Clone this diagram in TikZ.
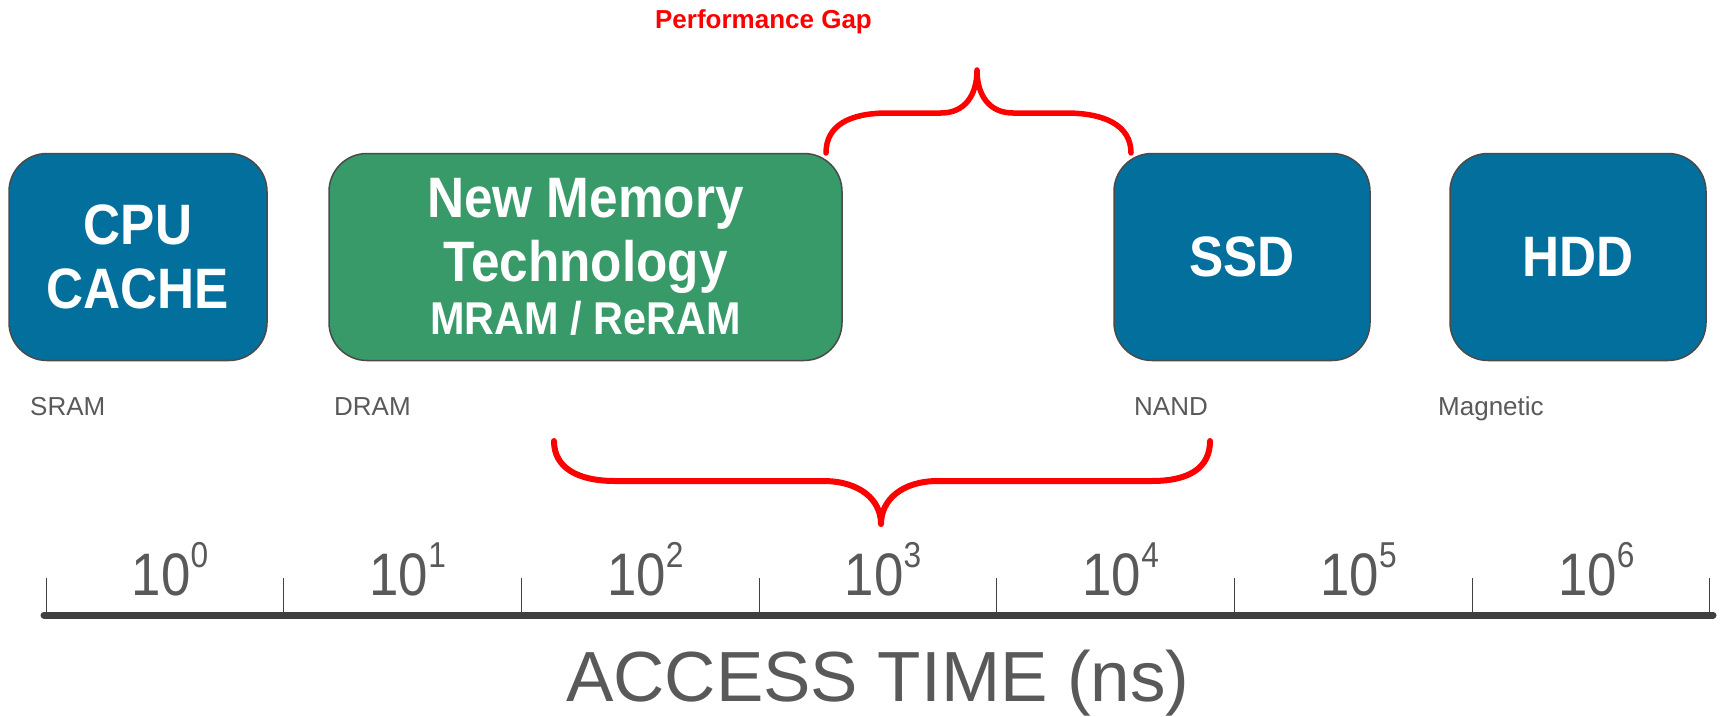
\documentclass[tikz,border=0pt]{standalone}
\usepackage{fontspec}
\setmainfont[FakeStretch=0.9]{Liberation Sans}
\newfontfamily\plainfont{Liberation Sans}
\newfontfamily\axisfont[FakeStretch=0.88]{Liberation Sans}
\usetikzlibrary{calc}
\definecolor{MemBlue}{HTML}{036F9D}
\definecolor{MemGreen}{HTML}{389A68}
\definecolor{EdgeGray}{HTML}{4A4A4A}
\definecolor{LabelGray}{HTML}{595959}
\definecolor{AxisGray}{HTML}{404040}
\tikzstyle{MemNode}=[rectangle, rounded corners=38pt, draw=EdgeGray, line width=1.5pt, fill=MemBlue, text=white, font=\bfseries\fontsize{57}{64}\selectfont, align=center, minimum height=207pt, inner sep=0pt]
\tikzstyle{NewMemNode}=[MemNode, fill=MemGreen]
\tikzstyle{TechLabel}=[anchor=base west, inner sep=0pt, text=LabelGray, font=\plainfont\fontsize{26}{30}\selectfont]
\tikzstyle{ExpLabel}=[anchor=base, inner sep=0pt, text=LabelGray, font=\axisfont\fontsize{60}{64}\selectfont]
\tikzstyle{GapBrace}=[red, line width=5.5pt, line cap=round, line join=round]
\tikzstyle{AxisLine}=[AxisGray, line width=7pt, line cap=round]
\tikzstyle{TickLine}=[AxisGray, line width=1pt]
\newcommand{\tenpow}[1]{10\raisebox{28pt}{\fontsize{36}{36}\selectfont #1}}

\begin{document}
\begin{tikzpicture}[x=1pt, y=-1pt]
\useasboundingbox (0,0) rectangle (1721,717);

\node[MemNode, minimum width=258pt](CPU) at (138,257) {CPU\\CACHE};
\node[NewMemNode, minimum width=513pt](NEWMEM) at (585.5,257) {New Memory\\Technology\\[-11pt]{\fontsize{46}{50}\selectfont MRAM / ReRAM}};
\node[MemNode, minimum width=256pt](SSD) at (1242,257) {SSD};
\node[MemNode, minimum width=256pt](HDD) at (1578,257) {HDD};

\node[TechLabel](SRAM) at (30,415) {SRAM};
\node[TechLabel](DRAM) at (334,415) {DRAM};
\node[TechLabel](NAND) at (1134,415) {NAND};
\node[TechLabel](MAGNETIC) at (1438,415) {Magnetic};

\node[anchor=base, inner sep=0pt, text=red, font=\plainfont\bfseries\fontsize{26}{30}\selectfont](GAPTEXT) at (763.5,28.5) {Performance Gap};

\coordinate (GapL) at (826,153);
\coordinate (GapR) at (1131,153);
\coordinate (GapTip) at (977,70);
\draw[GapBrace](GapL) .. controls (826,125) and (850,113) .. (888,113) -- (941,113)
  .. controls (965,113) and (977,95) .. (GapTip)
  .. controls (977,95) and (989,113) .. (1013,113) -- (1066,113)
  .. controls (1104,113) and (1131,125) .. (GapR);

\coordinate (SpanL) at (554,441);
\coordinate (SpanR) at (1210,441);
\coordinate (SpanTip) at (881,524);
\draw[GapBrace, line width=6pt](SpanL) .. controls (554,468) and (578,481) .. (615,481) -- (823,481)
  .. controls (860,481) and (881,500) .. (SpanTip)
  .. controls (881,500) and (902,481) .. (938,481) -- (1152,481)
  .. controls (1189,481) and (1210,468) .. (SpanR);

\coordinate (AxisL) at (44,615);
\coordinate (AxisR) at (1713,615);
\draw[AxisLine](AxisL) -- (AxisR);
\foreach \i in {0,...,7}
  \draw[TickLine] (46+237.7*\i,578) -- (46+237.7*\i,615);
\foreach \k in {0,...,6}
  \node[ExpLabel](EXP\k) at (46+237.7*\k+124,595) {\tenpow{\k}};

\node[anchor=base, inner sep=0pt, text=LabelGray, font=\plainfont\fontsize{71}{76}\selectfont](AXISTITLE) at (878,701) {ACCESS TIME (ns)};
\end{tikzpicture}
\end{document}
